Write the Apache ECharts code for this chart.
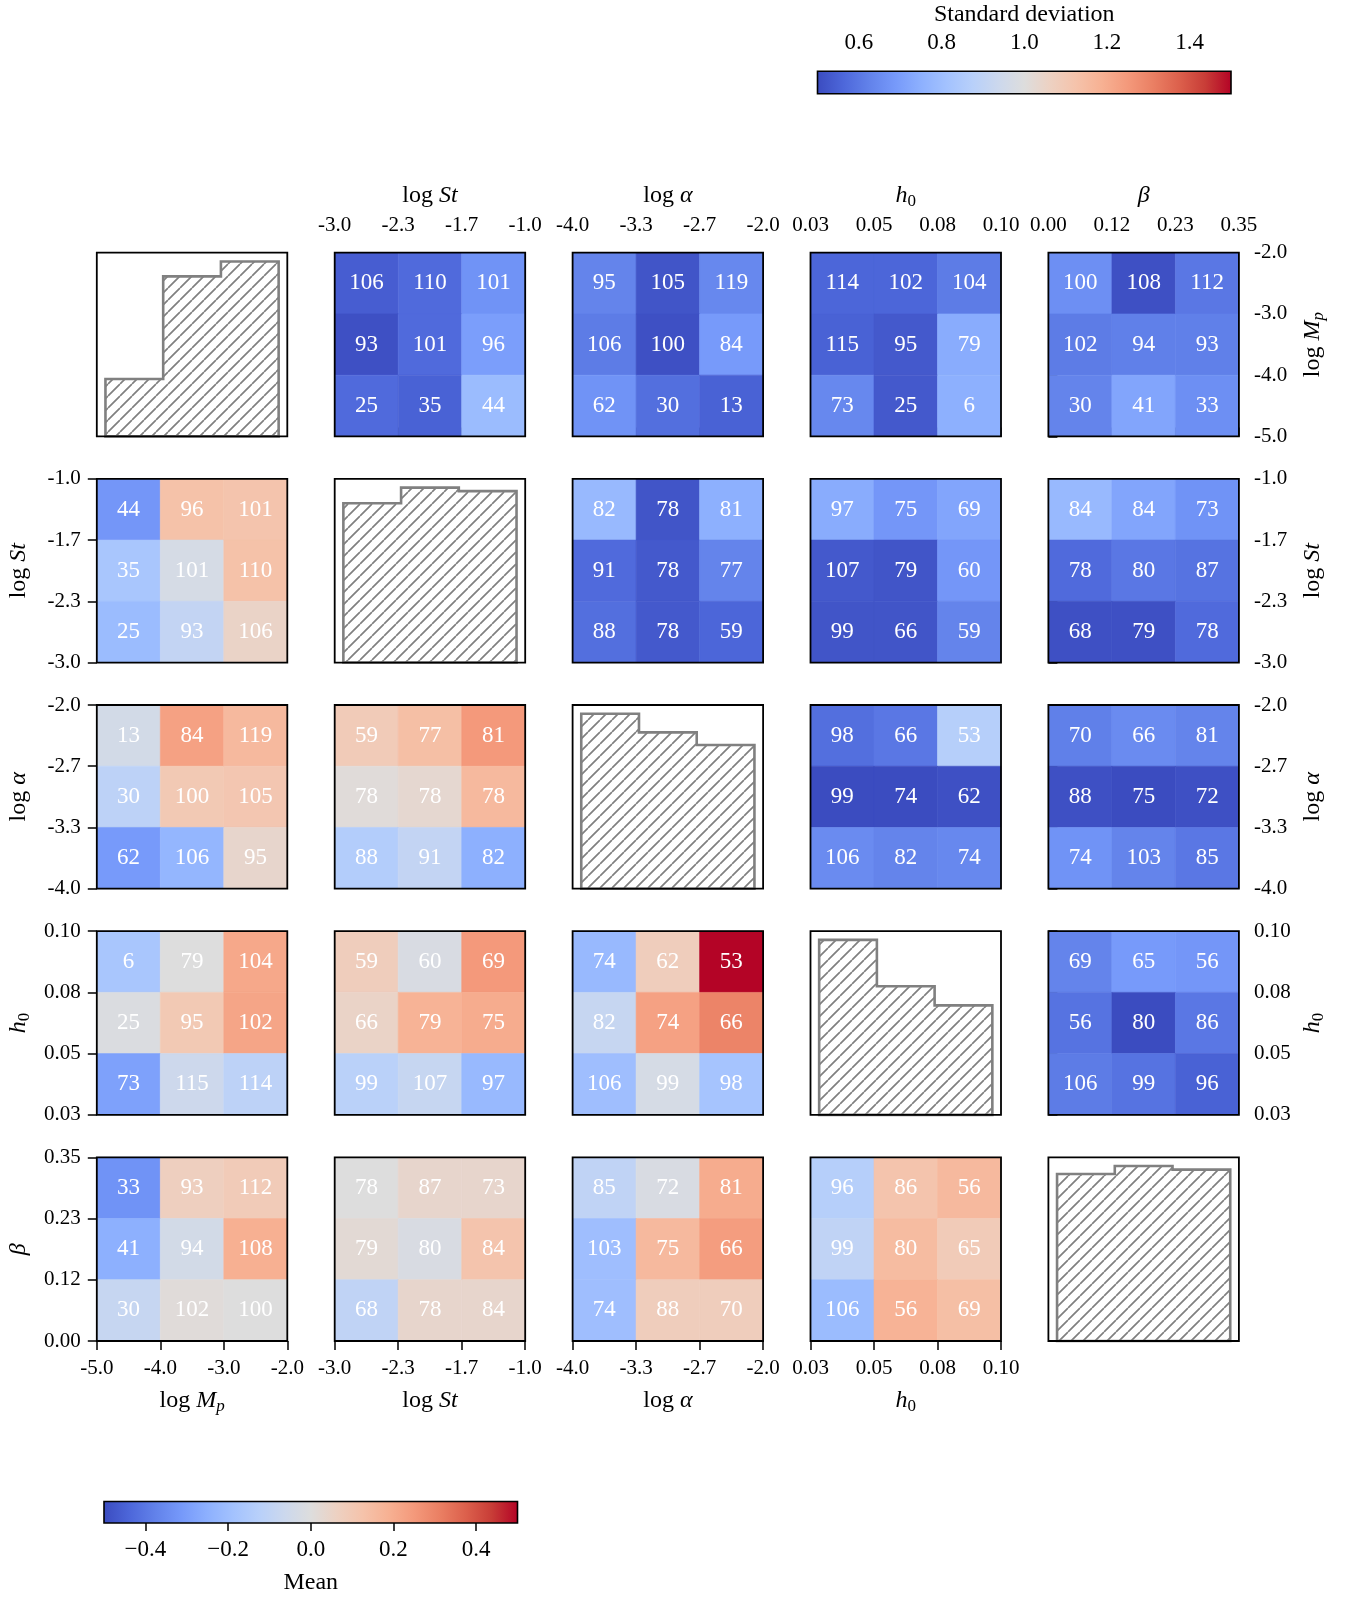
<!DOCTYPE html>
<html>
<head>
<meta charset="utf-8">
<script src="https://cdn.jsdelivr.net/npm/echarts@6/dist/echarts.min.js"></script>
<style>
  html, body { margin: 0; padding: 0; background: #ffffff; }
  #chart { width: 1352px; height: 1598px; }
</style>
</head>
<body>
<div id="chart"></div>
<script>
// ---- Bin-edge tick labels for each parameter ----
const ticksMp    = ['-5.0', '-4.0', '-3.0', '-2.0'];
const ticksSt    = ['-3.0', '-2.3', '-1.7', '-1.0'];
const ticksAlpha = ['-4.0', '-3.3', '-2.7', '-2.0'];
const ticksH0    = ['0.03', '0.05', '0.08', '0.10'];
const ticksBeta  = ['0.00', '0.12', '0.23', '0.35'];

// Colorbar ticks
const stdTicks  = [0.6, 0.8, 1.0, 1.2, 1.4];
const meanTicks = [-0.4, -0.2, 0.0, 0.2, 0.4];

// ---- Marginal counts per bin (diagonal histograms) ----
const histMp    = [104, 290, 317];
const histSt    = [224, 246, 241];
const histAlpha = [263, 235, 216];
const histH0    = [302, 222, 189];
const histBeta  = [232, 243, 238];

// ---- Counts per cell: rows listed top to bottom; x = first parameter, y = second ----
const countMpSt      = [[44, 96, 101], [35, 101, 110], [25, 93, 106]];
const countMpAlpha   = [[13, 84, 119], [30, 100, 105], [62, 106, 95]];
const countMpH0      = [[6, 79, 104], [25, 95, 102], [73, 115, 114]];
const countMpBeta    = [[33, 93, 112], [41, 94, 108], [30, 102, 100]];
const countStAlpha   = [[59, 77, 81], [78, 78, 78], [88, 91, 82]];
const countStH0      = [[59, 60, 69], [66, 79, 75], [99, 107, 97]];
const countStBeta    = [[78, 87, 73], [79, 80, 84], [68, 78, 84]];
const countAlphaH0   = [[74, 62, 53], [82, 74, 66], [106, 99, 98]];
const countAlphaBeta = [[85, 72, 81], [103, 75, 66], [74, 88, 70]];
const countH0Beta    = [[96, 86, 56], [99, 80, 65], [106, 56, 69]];

// ---- Mean per cell (lower panels; same orientation as the counts) ----
const meanMpSt      = [[-0.32, 0.13, 0.12], [-0.17, -0.03, 0.13], [-0.21, -0.09, 0.05]];
const meanMpAlpha   = [[-0.04, 0.23, 0.16], [-0.11, 0.10, 0.11], [-0.31, -0.23, 0.04]];
const meanMpH0      = [[-0.17, 0.00, 0.21], [-0.01, 0.10, 0.22], [-0.29, -0.06, -0.11]];
const meanMpBeta    = [[-0.33, 0.07, 0.09], [-0.25, -0.04, 0.19], [-0.08, 0.01, 0.00]];
const meanStAlpha   = [[0.09, 0.14, 0.25], [0.01, 0.03, 0.16], [-0.14, -0.09, -0.25]];
const meanStH0      = [[0.08, -0.02, 0.25], [0.05, 0.18, 0.20], [-0.12, -0.08, -0.22]];
const meanStBeta    = [[0.00, 0.04, 0.04], [0.02, -0.02, 0.12], [-0.10, 0.04, 0.04]];
const meanAlphaH0   = [[-0.22, 0.08, 0.50], [-0.08, 0.23, 0.30], [-0.20, -0.03, -0.18]];
const meanAlphaBeta = [[-0.10, -0.02, 0.20], [-0.20, 0.16, 0.24], [-0.20, 0.08, 0.08]];
const meanH0Beta    = [[-0.13, 0.12, 0.16], [-0.10, 0.15, 0.09], [-0.21, 0.18, 0.14]];

// ---- Standard deviation per cell (upper panels; rows top to bottom, x = second parameter, y = first) ----
const stdMpSt      = [[0.54, 0.57, 0.67], [0.51, 0.57, 0.70], [0.57, 0.55, 0.79]];
const stdMpAlpha   = [[0.63, 0.52, 0.64], [0.61, 0.51, 0.69], [0.67, 0.58, 0.55]];
const stdMpH0      = [[0.56, 0.56, 0.61], [0.55, 0.53, 0.74], [0.64, 0.53, 0.75]];
const stdMpBeta    = [[0.66, 0.51, 0.60], [0.61, 0.62, 0.62], [0.63, 0.72, 0.66]];
const stdStAlpha   = [[0.78, 0.52, 0.75], [0.57, 0.53, 0.63], [0.58, 0.53, 0.56]];
const stdStH0      = [[0.74, 0.68, 0.72], [0.53, 0.52, 0.68], [0.52, 0.52, 0.63]];
const stdStBeta    = [[0.78, 0.72, 0.67], [0.57, 0.60, 0.59], [0.51, 0.51, 0.57]];
const stdAlphaH0   = [[0.58, 0.60, 0.87], [0.50, 0.50, 0.51], [0.65, 0.63, 0.64]];
const stdAlphaBeta = [[0.62, 0.65, 0.63], [0.51, 0.50, 0.51], [0.67, 0.63, 0.60]];
const stdH0Beta    = [[0.63, 0.69, 0.68], [0.59, 0.50, 0.60], [0.61, 0.59, 0.55]];

// ---- Assembly ----
const FONT = '"Liberation Serif", "Times New Roman", serif';
const tickSets = [ticksMp, ticksSt, ticksAlpha, ticksH0, ticksBeta];
const hists = [histMp, histSt, histAlpha, histH0, histBeta];
const titles = ['log {it|M}{sub|p}', 'log {it|St}', 'log {it|\u03b1}', '{it|h}{sub0|0}', '{it|\u03b2}'];

// pair (a, b) with a < b -> [counts, means, stds]
const pairs = {
  '0-1': [countMpSt, meanMpSt, stdMpSt],
  '0-2': [countMpAlpha, meanMpAlpha, stdMpAlpha],
  '0-3': [countMpH0, meanMpH0, stdMpH0],
  '0-4': [countMpBeta, meanMpBeta, stdMpBeta],
  '1-2': [countStAlpha, meanStAlpha, stdStAlpha],
  '1-3': [countStH0, meanStH0, stdStH0],
  '1-4': [countStBeta, meanStBeta, stdStBeta],
  '2-3': [countAlphaH0, meanAlphaH0, stdAlphaH0],
  '2-4': [countAlphaBeta, meanAlphaBeta, stdAlphaBeta],
  '3-4': [countH0Beta, meanH0Beta, stdH0Beta]
};

// coolwarm colour map, 17 evenly spaced stops
const COOLWARM = [
  [59, 76, 192], [77, 103, 218], [98, 130, 234], [118, 153, 250], [141, 176, 254],
  [163, 194, 254], [184, 208, 250], [204, 216, 237], [221, 221, 221], [237, 209, 194],
  [245, 195, 171], [247, 177, 147], [244, 153, 123], [234, 127, 99], [220, 96, 76],
  [200, 61, 55], [180, 4, 38]
];
function coolwarm(t) {
  t = Math.max(0, Math.min(1, t));
  const f = t * (COOLWARM.length - 1);
  const i = Math.min(COOLWARM.length - 2, Math.floor(f));
  const u = f - i;
  const a = COOLWARM[i], b = COOLWARM[i + 1];
  const c = a.map((v, k) => Math.round(v + (b[k] - v) * u));
  return 'rgb(' + c.join(',') + ')';
}
const gradientStops = COOLWARM.map((c, i) => ({ offset: i / (COOLWARM.length - 1), color: 'rgb(' + c.join(',') + ')' }));

// diagonal hatch tile
const hatch = document.createElement('canvas');
hatch.width = 12; hatch.height = 12;
(function () {
  const g = hatch.getContext('2d');
  g.strokeStyle = '#808080';
  g.lineWidth = 1.7;
  g.beginPath();
  g.moveTo(0, 12); g.lineTo(12, 0);
  g.moveTo(-12, 12); g.lineTo(0, 0);
  g.moveTo(12, 12); g.lineTo(24, 0);
  g.stroke();
})();

// axis titles: one common line height so titles with and without subscripts sit alike
const nameStyle = {
  fontFamily: FONT, fontSize: 24, color: '#000', lineHeight: 30,
  rich: {
    it: { fontFamily: FONT, fontSize: 24, fontStyle: 'italic', color: '#000', lineHeight: 30 },
    sub: { fontFamily: FONT, fontSize: 17, fontStyle: 'italic', color: '#000', lineHeight: 18, padding: [12, 0, 0, 0] },
    sub0: { fontFamily: FONT, fontSize: 17, color: '#000', lineHeight: 18, padding: [12, 0, 0, 0] }
  }
};

function cellRenderer(lo, hi) {
  return function (params, api) {
    const x = api.value(0), y = api.value(1);
    const a = api.coord([x, y + 1]);
    const b = api.coord([x + 1, y]);
    const col = coolwarm((api.value(2) - lo) / (hi - lo));
    return {
      type: 'group',
      children: [
        { type: 'rect', shape: { x: a[0], y: a[1], width: b[0] - a[0], height: b[1] - a[1] },
          style: { fill: col, stroke: col, lineWidth: 0.6 } },
        { type: 'text', x: (a[0] + b[0]) / 2, y: (a[1] + b[1]) / 2,
          style: { text: String(api.value(3)), fill: '#ffffff', fontSize: 23, fontFamily: FONT,
                   align: 'center', verticalAlign: 'middle' } }
      ]
    };
  };
}

function histRenderer(params, api) {
  const h = [api.value(2), api.value(3), api.value(4)];
  const pts = [[0, 0], [0, h[0]], [1, h[0]], [1, h[1]], [2, h[1]], [2, h[2]], [3, h[2]], [3, 0]]
    .map(p => api.coord(p));
  return {
    type: 'polygon',
    shape: { points: pts },
    style: { fill: { image: hatch, repeat: 'repeat' }, stroke: '#808080', lineWidth: 2.6 }
  };
}

function barRenderer(params, api) {
  const a = api.coord([api.value(0), api.value(3)]);
  const b = api.coord([api.value(2), api.value(1)]);
  return {
    type: 'rect',
    shape: { x: a[0], y: a[1], width: b[0] - a[0], height: b[1] - a[1] },
    style: { fill: new echarts.graphic.LinearGradient(0, 0, 1, 0, gradientStops) }
  };
}

const grids = [], xAxes = [], yAxes = [], series = [];
const tickStyle = { show: true, inside: false, length: 9, lineStyle: { color: '#000', width: 1.5 } };
const labelBase = { show: true, fontSize: 21, fontFamily: FONT, color: '#000', margin: 17,
                    showMinLabel: true, showMaxLabel: true };

for (let r = 0; r < 5; r++) {
  for (let c = 0; c < 5; c++) {
    const g = grids.length;
    grids.push({
      left: 96.8 + c * 237.9, top: 252.7 + r * 226.15, width: 190.5, height: 183.7,
      show: true, borderColor: '#000', borderWidth: 1.8, backgroundColor: 'rgba(0,0,0,0)', z: 10
    });

    if (r === c) {
      const h = hists[r];
      xAxes.push({ gridIndex: g, type: 'value', min: -0.15, max: 3.15, show: false });
      yAxes.push({ gridIndex: g, type: 'value', min: 0, max: Math.max(...h) * 1.05, show: false });
      series.push({
        type: 'custom', coordinateSystem: 'cartesian2d', xAxisIndex: g, yAxisIndex: g,
        renderItem: histRenderer, data: [[0, 0, h[0], h[1], h[2]]], silent: true, z: 2
      });
      continue;
    }

    const xTicks = tickSets[c], yTicks = tickSets[r];
    const xPos = r === 0 ? 'top' : 'bottom';
    const xShow = (r === 0 && c > 0) || (r === 4 && c < 4);
    const yPos = c === 4 ? 'right' : 'left';
    const yShow = (c === 0 && r > 0) || (c === 4 && r < 4);

    xAxes.push({
      gridIndex: g, type: 'value', min: 0, max: 3, interval: 1, position: xPos,
      axisLine: { show: false }, splitLine: { show: false },
      axisTick: Object.assign({}, tickStyle, { show: xShow }),
      axisLabel: Object.assign({}, labelBase, { show: xShow, formatter: v => xTicks[Math.round(v)] }),
      name: xShow ? titles[c] : '', nameLocation: 'middle', nameGap: r === 0 ? 42 : 45,
      nameTextStyle: nameStyle
    });
    yAxes.push({
      gridIndex: g, type: 'value', min: 0, max: 3, interval: 1, position: yPos,
      axisLine: { show: false }, splitLine: { show: false },
      axisTick: Object.assign({}, tickStyle, { show: yShow }),
      axisLabel: Object.assign({}, labelBase, { show: yShow, margin: c === 4 ? 15 : 16,
                                                formatter: v => yTicks[Math.round(v)] }),
      name: yShow ? titles[r] : '', nameLocation: 'middle', nameRotate: 90,
      nameGap: c === 4 ? 59 : 63, nameTextStyle: nameStyle
    });

    const cells = [];
    if (r > c) {
      // lower panel: mean, x = parameter c, y = parameter r
      const [counts, means] = pairs[c + '-' + r];
      for (let k = 0; k < 3; k++) for (let j = 0; j < 3; j++) {
        cells.push([j, 2 - k, means[k][j], counts[k][j]]);
      }
      series.push({
        type: 'custom', coordinateSystem: 'cartesian2d', xAxisIndex: g, yAxisIndex: g,
        renderItem: cellRenderer(-0.5, 0.5), data: cells, silent: true, z: 2
      });
    } else {
      // upper panel: std, x = parameter c, y = parameter r
      const [counts, , stds] = pairs[r + '-' + c];
      for (let k = 0; k < 3; k++) for (let j = 0; j < 3; j++) {
        cells.push([j, 2 - k, stds[k][j], counts[2 - j][2 - k]]);
      }
      series.push({
        type: 'custom', coordinateSystem: 'cartesian2d', xAxisIndex: g, yAxisIndex: g,
        renderItem: cellRenderer(0.5, 1.5), data: cells, silent: true, z: 2
      });
    }
  }
}

// ---- Colorbars ----
function addColorbar(box, lo, hi, ticks, position, title, fmt, margin, nameGap) {
  const g = grids.length;
  grids.push(Object.assign({ show: true, borderColor: '#000', borderWidth: 1.6,
                             backgroundColor: 'rgba(0,0,0,0)', z: 10 }, box));
  xAxes.push({
    gridIndex: g, type: 'value', min: lo, max: hi, position: position,
    axisLine: { show: false }, splitLine: { show: false },
    axisTick: { show: true, inside: false, length: 8, customValues: ticks,
                lineStyle: { color: '#000', width: 1.5 } },
    axisLabel: { show: true, customValues: ticks, fontSize: 23, fontFamily: FONT, color: '#000',
                 margin: margin, formatter: fmt },
    name: title, nameLocation: 'middle', nameGap: nameGap,
    nameTextStyle: { fontFamily: FONT, fontSize: 24, color: '#000' }
  });
  yAxes.push({ gridIndex: g, type: 'value', min: 0, max: 1, show: false });
  series.push({
    type: 'custom', coordinateSystem: 'cartesian2d', xAxisIndex: g, yAxisIndex: g,
    renderItem: barRenderer, data: [[lo, 0, hi, 1]], silent: true, z: 2
  });
}

addColorbar({ left: 817.5, top: 71.3, width: 413.5, height: 22.5 }, 0.5, 1.5, stdTicks, 'top',
            'Standard deviation', v => v.toFixed(1), 17, 45);
addColorbar({ left: 104, top: 1501.5, width: 413.5, height: 21.5 }, -0.5, 0.5, meanTicks, 'bottom',
            'Mean', v => (v < -1e-9 ? '\u2212' + Math.abs(v).toFixed(1) : Math.abs(v).toFixed(1)), 15, 48);

const chart = echarts.init(document.getElementById('chart'), null, { renderer: 'canvas' });
chart.setOption({
  backgroundColor: '#ffffff',
  animation: false,
  grid: grids,
  xAxis: xAxes,
  yAxis: yAxes,
  series: series
});
</script>
</body>
</html>
